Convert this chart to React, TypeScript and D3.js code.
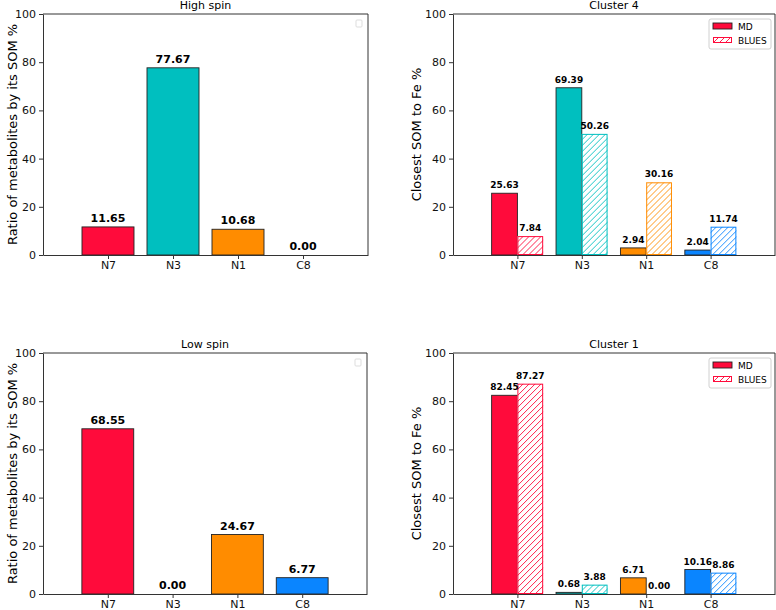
import * as d3 from "d3";
import { useEffect, useRef } from "react";

const categories = ["N7", "N3", "N1", "C8"];
const barColors = ["#FF0B3B", "#00BFBF", "#FF8C00", "#0A85FF"];
const yTicks = [0, 20, 40, 60, 80, 100];

const highSpin = [11.65, 77.67, 10.68, 0.0];
const lowSpin = [68.55, 0.0, 24.67, 6.77];
const cluster4MD = [25.63, 69.39, 2.94, 2.04];
const cluster4Blues = [7.84, 50.26, 30.16, 11.74];
const cluster1MD = [82.45, 0.68, 6.71, 10.16];
const cluster1Blues = [87.27, 3.88, 0.0, 8.86];
const legendLabels = ["MD", "BLUES"];

const FONT = "DejaVu Sans, sans-serif";

const panels = [
  { title: "High spin", x0: 43, x1: 368, y0: 14, y1: 255, ylabel: "Ratio of metabolites by its SOM %", labelX: 12, single: highSpin },
  { title: "Cluster 4", x0: 453, x1: 775, y0: 14, y1: 255, ylabel: "Closest SOM to Fe %", labelX: 416, md: cluster4MD, blues: cluster4Blues },
  { title: "Low spin", x0: 43, x1: 367, y0: 353, y1: 594, ylabel: "Ratio of metabolites by its SOM %", labelX: 12, single: lowSpin },
  { title: "Cluster 1", x0: 453, x1: 775, y0: 353, y1: 594, ylabel: "Closest SOM to Fe %", labelX: 416, md: cluster1MD, blues: cluster1Blues },
];

let clipCount = 0;

// white box with diagonal "///" lines in the given colour, clipped to the box
function hatchRect(parent, defs, x, y, w, h, color) {
  if (h <= 0) return;
  const id = "hclip" + clipCount++;
  defs.append("clipPath").attr("id", id).append("rect").attr("x", x).attr("y", y).attr("width", w).attr("height", h);
  const g = parent.append("g");
  g.append("rect").attr("x", x).attr("y", y).attr("width", w).attr("height", h).attr("fill", "white");
  const lines = g.append("g").attr("clip-path", `url(#${id})`);
  const step = 6;
  d3.range(x - h - step, x + w + step, step).forEach((k) => {
    lines
      .append("line")
      .attr("x1", k)
      .attr("y1", y + h)
      .attr("x2", k + h)
      .attr("y2", y)
      .attr("stroke", color)
      .attr("stroke-width", 0.9);
  });
  g.append("rect")
    .attr("x", x + 0.5)
    .attr("y", y + 0.5)
    .attr("width", Math.max(0, w - 1))
    .attr("height", Math.max(0, h - 1))
    .attr("fill", "none")
    .attr("stroke", color)
    .attr("stroke-width", 1);
}

function App() {
  const svgRef = useRef(null);

  useEffect(() => {
    const svg = d3.select(svgRef.current);
    svg.selectAll("*").remove();
    const defs = svg.append("defs");

    panels.forEach((pn) => {
      const g = svg.append("g");
      const x = d3.scaleLinear().domain([-1, 4]).range([pn.x0, pn.x1]);
      const y = d3.scaleLinear().domain([0, 100]).range([pn.y1, pn.y0]);
      const single = !!pn.single;
      const labelSize = single ? 11 : 9;

      if (single) {
        const vals = pn.single;
        g.selectAll(".bar")
          .data(vals)
          .join("rect")
          .attr("class", "bar")
          .attr("x", (v, i) => x(i - 0.4))
          .attr("y", (v) => y(v))
          .attr("width", x(0.8) - x(0))
          .attr("height", (v) => y(0) - y(v))
          .attr("fill", (v, i) => barColors[i])
          .attr("stroke", (v) => (v > 0 ? "#222" : "none"))
          .attr("stroke-width", 0.9);
        g.selectAll(".lab")
          .data(vals)
          .join("text")
          .attr("class", "lab")
          .attr("x", (v, i) => x(i))
          .attr("y", (v) => y(v) - 5)
          .attr("text-anchor", "middle")
          .attr("font-family", FONT)
          .attr("font-weight", "bold")
          .attr("font-size", labelSize)
          .text((v) => v.toFixed(2));
        // empty legend box
        g.append("rect")
          .attr("x", pn.x1 - 12)
          .attr("y", pn.y0 + 6)
          .attr("width", 6)
          .attr("height", 7)
          .attr("rx", 1)
          .attr("fill", "white")
          .attr("stroke", "#ddd");
      } else {
        const bw = x(0.4) - x(0);
        g.selectAll(".md")
          .data(pn.md)
          .join("rect")
          .attr("class", "md")
          .attr("x", (v, i) => x(i - 0.4))
          .attr("y", (v) => y(v))
          .attr("width", bw)
          .attr("height", (v) => y(0) - y(v))
          .attr("fill", (v, i) => barColors[i])
          .attr("stroke", "#222")
          .attr("stroke-width", 0.9);
        pn.blues.forEach((v, i) => {
          hatchRect(g, defs, x(i), y(v), bw, y(0) - y(v), barColors[i]);
        });
        g.selectAll(".labmd")
          .data(pn.md)
          .join("text")
          .attr("class", "labmd")
          .attr("x", (v, i) => x(i - 0.2))
          .attr("y", (v) => y(v) - 5)
          .attr("text-anchor", "middle")
          .attr("font-family", FONT)
          .attr("font-weight", "bold")
          .attr("font-size", labelSize)
          .text((v) => v.toFixed(2));
        g.selectAll(".labbl")
          .data(pn.blues)
          .join("text")
          .attr("class", "labbl")
          .attr("x", (v, i) => x(i + 0.2))
          .attr("y", (v) => y(v) - 5)
          .attr("text-anchor", "middle")
          .attr("font-family", FONT)
          .attr("font-weight", "bold")
          .attr("font-size", labelSize)
          .text((v) => v.toFixed(2));

        // legend
        const lx = pn.x1 - 66;
        const ly = pn.y0 + 5;
        const lg = g.append("g");
        lg.append("rect")
          .attr("x", lx)
          .attr("y", ly)
          .attr("width", 62)
          .attr("height", 30)
          .attr("rx", 2)
          .attr("fill", "white")
          .attr("stroke", "#d0d0d0");
        legendLabels.forEach((lab, k) => {
          if (k === 0) {
            lg.append("rect")
              .attr("x", lx + 4)
              .attr("y", ly + 4)
              .attr("width", 19)
              .attr("height", 6)
              .attr("fill", barColors[0])
              .attr("stroke", "#222")
              .attr("stroke-width", 0.9);
          } else {
            hatchRect(lg, defs, lx + 4, ly + 18, 19, 6, barColors[0]);
          }
          lg.append("text")
            .attr("x", lx + 29)
            .attr("y", ly + 10.5 + k * 14)
            .attr("font-family", FONT)
            .attr("font-size", 9)
            .text(lab);
        });
      }

      // axes
      const xAxis = d3
        .axisBottom(x)
        .tickValues([0, 1, 2, 3])
        .tickFormat((d) => categories[d])
        .tickSize(4)
        .tickPadding(2)
        .tickSizeOuter(0);
      g.append("g")
        .attr("transform", `translate(0,${pn.y1})`)
        .call(xAxis)
        .call((a) => a.selectAll("text").attr("font-size", 11).attr("font-family", FONT).attr("fill", "#111"))
        .call((a) => a.selectAll("line").attr("stroke", "#333"))
        .call((a) => a.select(".domain").attr("stroke", "#333"));

      const yAxis = d3.axisLeft(y).tickValues(yTicks).tickSize(4).tickSizeOuter(0);
      g.append("g")
        .attr("transform", `translate(${pn.x0},0)`)
        .call(yAxis)
        .call((a) => a.selectAll("text").attr("font-size", 11).attr("font-family", FONT).attr("fill", "#111"))
        .call((a) => a.selectAll("line").attr("stroke", "#333"))
        .call((a) => a.select(".domain").attr("stroke", "#333"));

      // top and right spines
      g.append("path")
        .attr("d", `M${pn.x0},${pn.y0}H${pn.x1}V${pn.y1}`)
        .attr("fill", "none")
        .attr("stroke", "#333");

      g.append("text")
        .attr("x", (pn.x0 + pn.x1) / 2)
        .attr("y", pn.y0 - 5)
        .attr("text-anchor", "middle")
        .attr("font-family", FONT)
        .attr("font-size", 11)
        .text(pn.title);

      g.append("text")
        .attr("transform", `translate(${pn.labelX + 5},${(pn.y0 + pn.y1) / 2}) rotate(-90)`)
        .attr("text-anchor", "middle")
        .attr("font-family", FONT)
        .attr("font-size", 13)
        .text(pn.ylabel);
    });
  }, []);

  return (
    <svg
      ref={svgRef}
      width={776}
      height={610}
      style={{ position: "absolute", left: 0, top: 0, background: "white" }}
    ></svg>
  );
}

export default App;
